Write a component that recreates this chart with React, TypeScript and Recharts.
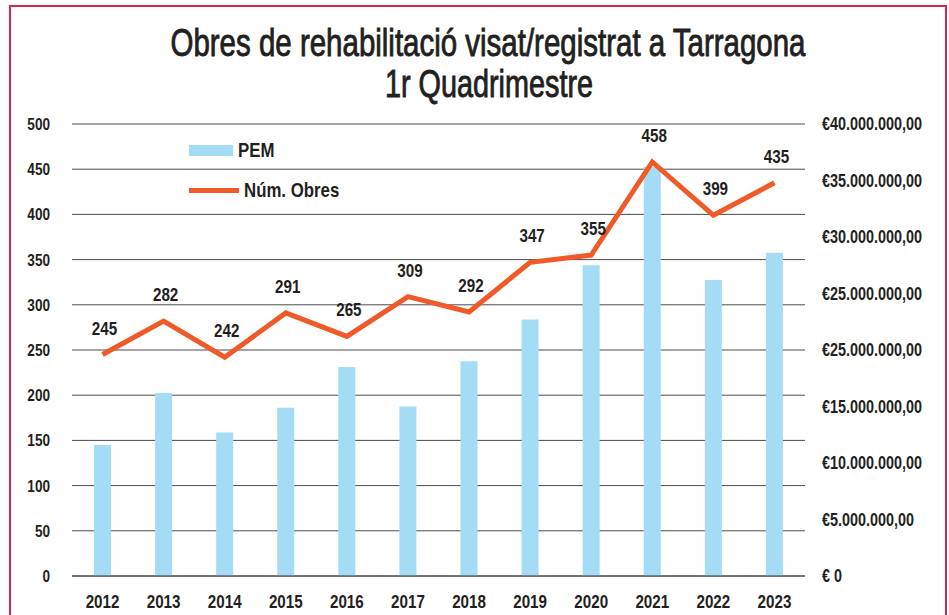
import {
  ComposedChart, Bar, Line, XAxis, YAxis, CartesianGrid, LabelList, Legend,
} from 'recharts'

const years = ['2012', '2013', '2014', '2015', '2016', '2017', '2018', '2019', '2020', '2021', '2022', '2023']
const numObres = [245, 282, 242, 291, 265, 309, 292, 347, 355, 458, 399, 435]
const pem = [11600000, 16200000, 12700000, 14900000, 18500000, 15000000, 19000000, 22700000, 27500000, 36200000, 26200000, 28600000]

const leftTicks = [0, 50, 100, 150, 200, 250, 300, 350, 400, 450, 500]
const rightTicks = [0, 5000000, 10000000, 15000000, 20000000, 25000000, 30000000, 35000000, 40000000]
const rightLabels = [
  '€ 0', '€5.000.000,00', '€10.000.000,00', '€15.000.000,00', '€25.000.000,00',
  '€25.000.000,00', '€30.000.000,00', '€35.000.000,00', '€40.000.000,00',
]
const boundaryTicks = [0, 1, 2, 3, 4, 5, 6, 7, 8, 9, 10, 11, 12]

const title1 = 'Obres de rehabilitació visat/registrat a Tarragona'
const title2 = '1r Quadrimestre'

const FONT = '"Liberation Sans", Arial, sans-serif'
const INK = '#231f20'
const BLUE = '#a4dcf5'
const ORANGE = '#f05a28'
const SQUEEZE = 0.8

const data = years.map((y, i) => ({ year: y, obres: numObres[i], pem: pem[i] }))

// condensed text: Liberation Sans squeezed horizontally to look like the narrow original
function NarrowText({ x, y, text, anchor, size = 18, dy = '0.355em' }: any) {
  return (
    <text
      transform={`translate(${x},${y}) scale(${SQUEEZE},1)`}
      textAnchor={anchor}
      dy={dy}
      fontFamily={FONT}
      fontWeight={700}
      fontSize={size}
      fill={INK}
    >
      {text}
    </text>
  )
}

const LeftTick = ({ x, y, payload }: any) => (
  <NarrowText x={x} y={y} text={payload.value} anchor="end" size={17} />
)
const RightTick = ({ x, y, payload }: any) => (
  <NarrowText x={x} y={y} text={rightLabels[rightTicks.indexOf(payload.value)]} anchor="start" />
)
const YearTick = ({ x, y, payload }: any) => (
  <NarrowText x={x} y={y} text={payload.value} anchor="middle" size={19} dy="0.85em" />
)
const PointLabel = ({ x, y, value }: any) => (
  <NarrowText x={x + 2} y={y - 20} text={value} anchor="middle" size={19} dy="0" />
)

function LegendBox() {
  const label = { display: 'inline-block', transform: `scaleX(${SQUEEZE})`, transformOrigin: 'left center' }
  return (
    <div style={{ fontFamily: FONT, fontWeight: 700, fontSize: 21, color: INK, lineHeight: '24px' }}>
      <div style={{ display: 'flex', alignItems: 'center', height: 24 }}>
        <span style={{ display: 'inline-block', width: 44, height: 11, background: BLUE, marginRight: 5 }} />
        <span style={label}>PEM</span>
      </div>
      <div style={{ display: 'flex', alignItems: 'center', height: 24, marginTop: 16 }}>
        <span style={{ display: 'inline-block', width: 50, height: 5, background: ORANGE, marginRight: 5 }} />
        <span style={label}>Núm. Obres</span>
      </div>
    </div>
  )
}

export default function App() {
  return (
    <div style={{ position: 'fixed', left: 0, top: 0, width: 949, height: 615, background: '#fff', overflow: 'hidden' }}>
      <ComposedChart
        width={949}
        height={615}
        data={data}
        margin={{ top: 124, right: 0, left: 0, bottom: 0 }}
      >
        <CartesianGrid yAxisId="left" xAxisId="cat" vertical={false} stroke="#4a4a4a" strokeWidth={1} />
        <XAxis
          xAxisId="bounds"
          type="number"
          domain={[0, 12]}
          ticks={boundaryTicks}
          allowDataOverflow
          height={6}
          tick={false}
          tickSize={6}
          stroke="#666"
          strokeWidth={1.5}
        />
        <XAxis
          xAxisId="cat"
          dataKey="year"
          height={33}
          axisLine={false}
          tickLine={false}
          tickSize={0}
          tickMargin={10}
          tick={<YearTick />}
          interval={0}
        />
        <YAxis
          yAxisId="left"
          orientation="left"
          width={72}
          domain={[0, 500]}
          ticks={leftTicks}
          axisLine={false}
          tickLine={false}
          tickSize={0}
          tickMargin={22}
          tick={<LeftTick />}
        />
        <YAxis
          yAxisId="right"
          orientation="right"
          width={144}
          domain={[0, 40000000]}
          ticks={rightTicks}
          axisLine={false}
          tickLine={false}
          tickSize={0}
          tickMargin={17}
          tick={<RightTick />}
        />
        <Legend
          layout="vertical"
          align="center"
          verticalAlign="middle"
          wrapperStyle={{ left: 189, top: 138, width: 200 }}
          content={() => <LegendBox />}
        />
        <Bar xAxisId="cat" yAxisId="right" dataKey="pem" fill={BLUE} barSize={17} isAnimationActive={false} />
        <Line
          xAxisId="cat"
          yAxisId="left"
          dataKey="obres"
          stroke={ORANGE}
          strokeWidth={5}
          strokeLinejoin="miter"
          dot={false}
          type="linear"
          isAnimationActive={false}
        >
          <LabelList dataKey="obres" content={<PointLabel />} />
        </Line>
      </ComposedChart>

      <svg width={949} height={615} style={{ position: 'absolute', left: 0, top: 0, pointerEvents: 'none' }}>
        <text x={488} y={56} textAnchor="middle" textLength={635} lengthAdjust="spacingAndGlyphs"
          fontFamily={FONT} fontSize={38} fill={INK} stroke={INK} strokeWidth={0.9}>{title1}</text>
        <text x={489} y={97} textAnchor="middle" textLength={208} lengthAdjust="spacingAndGlyphs"
          fontFamily={FONT} fontSize={38} fill={INK} stroke={INK} strokeWidth={0.9}>{title2}</text>
        <polyline points="10,615 10,6 946,6 946,615" fill="none" stroke="#d9254a" strokeWidth={2} />
      </svg>
    </div>
  )
}
